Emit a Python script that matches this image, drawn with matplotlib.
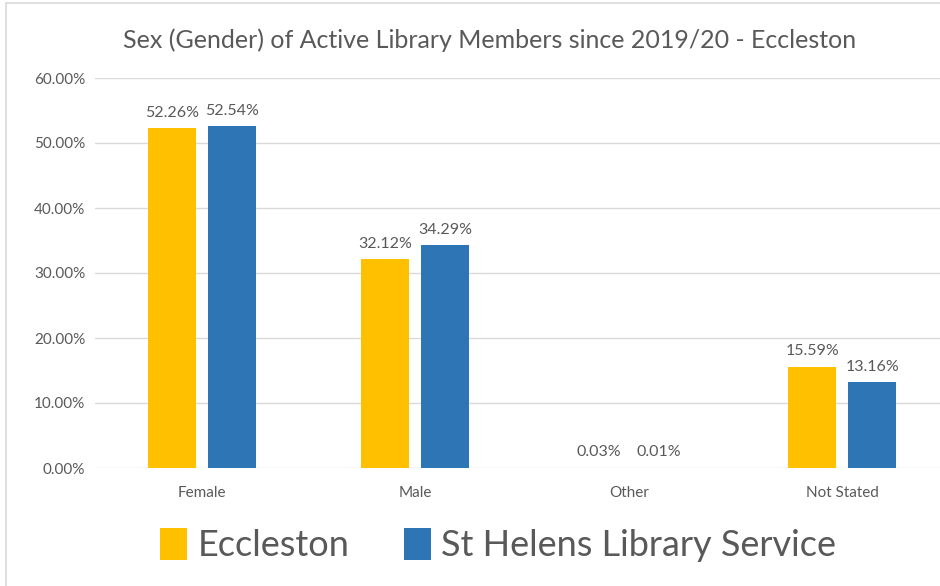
import matplotlib
matplotlib.use("Agg")
import matplotlib.pyplot as plt
import numpy as np
from matplotlib.patches import Rectangle

plt.rcParams['font.family'] = ['Lato', 'DejaVu Sans']

categories = ['Female', 'Male', 'Other', 'Not Stated']
eccleston = [52.26, 32.12, 0.03, 15.59]
st_helens = [52.54, 34.29, 0.01, 13.16]
yticks = [0, 10, 20, 30, 40, 50, 60]

yellow = '#FFC000'
blue = '#2E75B6'
grey = '#595959'

W, H = 940, 586
fig = plt.figure(figsize=(W / 100, H / 100), dpi=100)

# light chart border
fig.patches.append(Rectangle((6 / W, -0.01), 1.0, (H - 3) / H + 0.01,
                             transform=fig.transFigure, fill=False,
                             edgecolor='#D9D9D9', linewidth=1.2))

ax = fig.add_axes([95 / W, (H - 468) / H, (949 - 95) / W, 390 / H])
x = np.arange(len(categories))
w = 0.225
off = 0.14
b1 = ax.bar(x - off, eccleston, w, color=yellow, label='Eccleston', zorder=3)
b2 = ax.bar(x + off, st_helens, w, color=blue, label='St Helens Library Service', zorder=3)

for bars, vals in ((b1, eccleston), (b2, st_helens)):
    for b, v in zip(bars, vals):
        ax.text(b.get_x() + b.get_width() / 2, v + 1.3, '{:.2f}%'.format(v),
                ha='center', va='bottom', fontsize=11.5, color=grey)

ax.set_xlim(-0.5, 3.5)
ax.set_ylim(0, 60)
ax.set_yticks(yticks)
ax.set_yticklabels(['{:.2f}%'.format(t) for t in yticks], fontsize=11, color=grey)
ax.set_xticks(x)
ax.set_xticklabels(categories, fontsize=11, color=grey)
ax.tick_params(length=0, pad=7)
ax.tick_params(axis='x', pad=13)
ax.grid(axis='y', color='#D9D9D9', linewidth=1, zorder=0)
for s in ax.spines.values():
    s.set_visible(False)

fig.text(490 / W, 1 - 40 / H, 'Sex (Gender) of Active Library Members since 2019/20 - Eccleston',
         ha='center', va='center', fontsize=18, color=grey)

fig.legend(handles=[b1, b2], loc='center', bbox_to_anchor=(498 / W, 1 - 545 / H),
           ncol=2, frameon=False, fontsize=26, labelcolor=grey,
           handlelength=0.75, handleheight=1.0, handletextpad=0.3, columnspacing=1.5)

fig.savefig('out.png', dpi=100)
